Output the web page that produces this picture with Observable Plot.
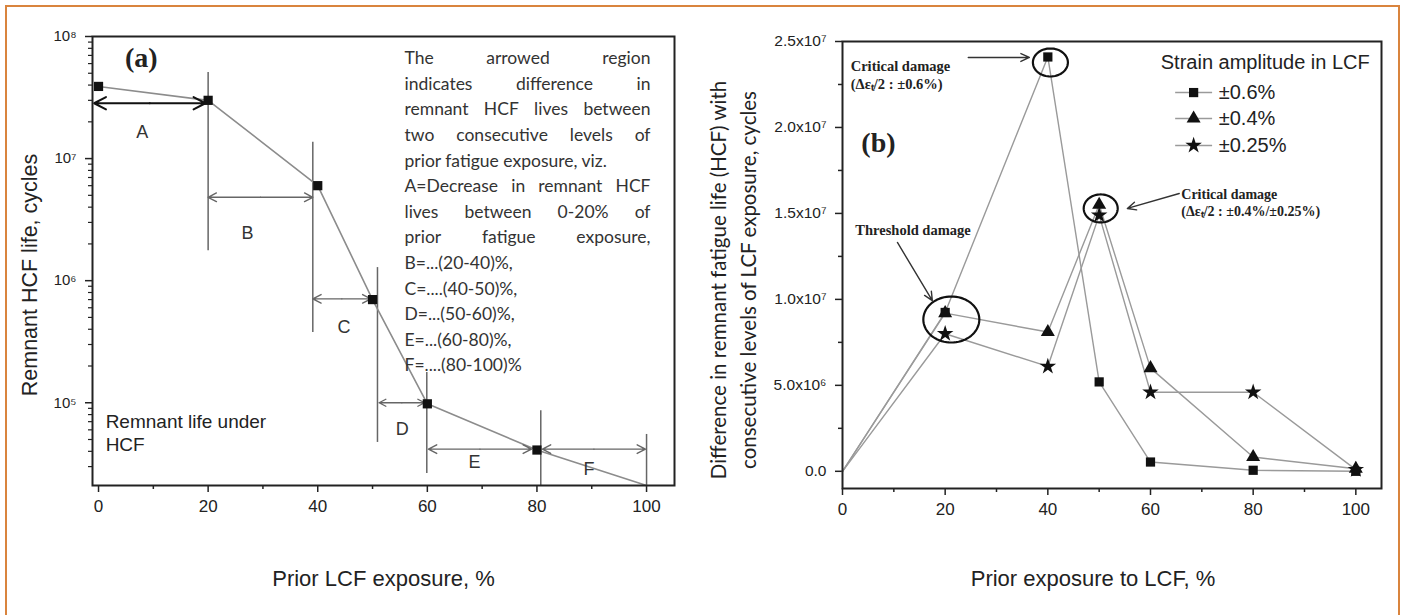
<!DOCTYPE html>
<html>
<head>
<meta charset="utf-8">
<script src="https://cdn.jsdelivr.net/npm/d3@7"></script>
<script src="https://cdn.jsdelivr.net/npm/@observablehq/plot@0.6"></script>
<style>
html,body{margin:0;padding:0;background:#fff;overflow:hidden;}
#wrap{position:relative;width:1407px;height:615px;overflow:hidden;background:#fff;}
#border{position:absolute;left:5px;top:5px;width:1395px;height:700px;border:2px solid #d9843e;box-sizing:border-box;}
#pa{position:absolute;left:0;top:0;}
#pb{position:absolute;left:700px;top:0;}
</style>
</head>
<body>
<div id="wrap"><div id="border"></div><div id="pa"></div><div id="pb"></div></div>
<script>
// ---------------- DATA ----------------
// Panel (a): remnant HCF life vs prior LCF exposure
const exposureA = [0, 20, 40, 50, 60, 80, 100];
const hcfLife = [3.9e7, 3.0e7, 6.0e6, 7.0e5, 9.8e4, 4.1e4, 2.1e4];
const xTicks = [0, 20, 40, 60, 80, 100];
const xMinorTicks = [10, 30, 50, 70, 90];
const yTicksA = [1e5, 1e6, 1e7, 1e8];
const intervalLabels = ["A", "B", "C", "D", "E", "F"];
const noteLines = [
  "The arrowed region",
  "indicates difference in",
  "remnant HCF lives between",
  "two consecutive levels of",
  "prior fatigue exposure, viz.",
  "A=Decrease in remnant HCF",
  "lives between 0-20% of",
  "prior fatigue exposure,",
  "B=...(20-40)%,",
  "C=....(40-50)%,",
  "D=...(50-60)%,",
  "E=...(60-80)%,",
  "F=....(80-100)%"
];
const justifiedLines = [0, 1, 2, 3, 5, 6, 7];

// Panel (b): difference in remnant HCF life between consecutive levels
const exposureB = [0, 20, 40, 50, 60, 80, 100];
const seriesNames = ["±0.6%", "±0.4%", "±0.25%"];
const diff06 = [0, 9.24e6, 2.41e7, 5.2e6, 0.54e6, 0.06e6, 0];
const diff04 = [0, 9.2e6, 8.1e6, 1.55e7, 6.0e6, 0.83e6, 0.15e6];
const diff025 = [0, 8.0e6, 6.1e6, 1.49e7, 4.6e6, 4.6e6, 0.1e6];
const yTicksB = [0, 5e6, 1e7, 1.5e7, 2e7, 2.5e7];
const yMinorTicksB = [2.5e6, 7.5e6, 1.25e7, 1.75e7, 2.25e7];

// ---------------- helpers ----------------
const supMap = {"0":"⁰","1":"¹","2":"²","3":"³","4":"⁴","5":"⁵","6":"⁶","7":"⁷","8":"⁸","9":"⁹","-":"⁻"};
const toSup = n => String(n).split("").map(c => supMap[c]).join("");
const SANS = "Liberation Sans, Arial, sans-serif";
const SERIF = "Liberation Serif, Times New Roman, serif";
const H = 615;

// ================= PANEL (a) =================
const WA = 700;
const mA = {left: 92, right: 26, top: 36, bottom: 130};
const xDomA = [-1.1, 105.1];
const yDomA = [2.1e4, 1e8];
const kxA = (WA - mA.left - mA.right) / (xDomA[1] - xDomA[0]);

const ptsA = exposureA.map((x, i) => ({x, y: hcfLife[i]}));
const minorYA = [];
for (let e = 4; e < 8; e++) for (let k = 2; k <= 9; k++) {
  const v = k * 10 ** e;
  if (v >= yDomA[0] && v <= yDomA[1]) minorYA.push(v);
}

// arrow spans (annotation geometry)
const spansA = [
  {x1: -0.8, x2: 19.5, y: 2.84e7},
  {x1: 20.0, x2: 39.1, y: 4.82e6},
  {x1: 39.1, x2: 49.7, y: 7.1e5},
  {x1: 51.2, x2: 59.5, y: 1.0e5},
  {x1: 60.2, x2: 79.0, y: 4.17e4},
  {x1: 81.0, x2: 99.8, y: 4.17e4}
];
const halves = spansA.flatMap((s, i) => {
  const m = (s.x1 + s.x2) / 2;
  return [{i, x1: m, x2: s.x1, y: s.y}, {i, x1: m, x2: s.x2, y: s.y}];
});
const labelPosA = [
  {x: 8.0, y: 1.63e7}, {x: 27.2, y: 2.43e6}, {x: 44.8, y: 4.14e5},
  {x: 55.4, y: 6.08e4}, {x: 68.6, y: 3.24e4}, {x: 89.5, y: 2.86e4}
].map((p, i) => ({...p, t: intervalLabels[i]}));
const rulesA = [
  {x: 20, y1: 5.07e7, y2: 1.76e6},
  {x: 39.1, y1: 1.36e7, y2: 3.77e5},
  {x: 50.9, y1: 1.28e6, y2: 4.73e4},
  {x: 59.9, y1: 1.77e5, y2: 2.63e4},
  {x: 80.7, y1: 8.6e4, y2: 2.1e4},
  {x: 100, y1: 5.5e4, y2: 2.1e4}
];

// justified note block
const NOTE_FONT = 17.5;
const noteLeftPx = 404, noteWidthPx = 246, noteTopPx = 58, noteStep = 25.6;
const ctx = document.createElement("canvas").getContext("2d");
ctx.font = `${NOTE_FONT}px Lato`;
const noteMarks = noteLines.map((line, li) => {
  let words;
  if (justifiedLines.includes(li)) {
    const ws = line.split(" ");
    const widths = ws.map(w => ctx.measureText(w).width);
    const gap = (noteWidthPx - d3.sum(widths)) / (ws.length - 1);
    let cur = 0;
    words = ws.map((w, j) => { const o = {t: w, px: cur}; cur += widths[j] + gap; return o; });
  } else {
    words = [{t: line, px: 0}];
  }
  words.forEach(w => w.x = xDomA[0] + (noteLeftPx + w.px - mA.left) / kxA);
  return Plot.text(words, {
    x: "x", text: "t", frameAnchor: "top", dy: noteTopPx + li * noteStep - mA.top,
    textAnchor: "start", lineAnchor: "middle", fontFamily: "Lato", fontSize: NOTE_FONT, fill: "#333"
  });
});

const plotA = Plot.plot({
  width: WA, height: H,
  marginLeft: mA.left, marginRight: mA.right, marginTop: mA.top, marginBottom: mA.bottom,
  x: {domain: xDomA},
  y: {type: "log", domain: yDomA},
  style: {fontFamily: SANS, fontSize: "17px", color: "#222", background: "transparent", overflow: "visible"},
  marks: [
    Plot.axisX({ticks: xTicks, tickSize: 7, tickPadding: 7, fontSize: 17, label: null, strokeWidth: 1.5}),
    Plot.axisX({ticks: xMinorTicks, tickSize: 4, tickFormat: () => "", label: null, strokeWidth: 1.5}),
    Plot.axisY({ticks: yTicksA, tickSize: 7, tickPadding: 9, fontSize: 15, label: null, strokeWidth: 1.5,
      tickFormat: d => "10" + toSup(Math.round(Math.log10(d)))}),
    Plot.axisY({ticks: minorYA, tickSize: 4, tickFormat: () => "", label: null, strokeWidth: 1.2}),
    Plot.ruleX(rulesA, {x: "x", y1: "y1", y2: "y2", stroke: "#666", strokeWidth: 1.5}),
    Plot.line(ptsA, {x: "x", y: "y", stroke: "#8c8c8c", strokeWidth: 1.6}),
    Plot.arrow(halves.filter(d => d.i === 0), {x1: "x1", x2: "x2", y1: "y", y2: "y", stroke: "#111", strokeWidth: 2, headLength: 10, headAngle: 55}),
    Plot.arrow(halves.filter(d => d.i > 0), {x1: "x1", x2: "x2", y1: "y", y2: "y", stroke: "#666", strokeWidth: 1.4, headLength: 10, headAngle: 55}),
    Plot.dot(ptsA.filter(d => d.x < 100), {x: "x", y: "y", symbol: "square", r: 5.2, fill: "#111"}),
    Plot.text(labelPosA, {x: "x", y: "y", text: "t", fontSize: 18, fontFamily: SANS, fill: "#333"}),
    Plot.text(["(a)"], {x: 7.8, y: 6.6e7, text: d => d, fontFamily: SERIF, fontWeight: "bold", fontSize: 28, fill: "#222"}),
    Plot.text(["Remnant life under\nHCF"], {x: 1.3, y: 5.7e4, text: d => d, textAnchor: "start", lineAnchor: "middle", lineHeight: 1.2, fontSize: 19, fontFamily: SANS, fill: "#222"}),
    ...noteMarks,
    Plot.text(["Prior LCF exposure, %"], {frameAnchor: "bottom", dy: 93, text: d => d, textAnchor: "middle", lineAnchor: "middle", fontSize: 22, fontFamily: SANS, fill: "#222"}),
    Plot.text(["Remnant HCF life, cycles"], {frameAnchor: "left", dx: -62, dy: 14, rotate: -90, text: d => d, textAnchor: "middle", lineAnchor: "middle", fontSize: 21.5, fontFamily: SANS, fill: "#222"}),
    Plot.frame({stroke: "#222", strokeWidth: 2})
  ]
});
document.getElementById("pa").append(plotA);

// ================= PANEL (b) =================
const WB = 707;
const mB = {left: 142, right: 26, top: 41, bottom: 127};
const xDomB = [0, 105];
const yDomB = [-1e6, 2.5e7];
const kxB = (WB - mB.left - mB.right) / (xDomB[1] - xDomB[0]);
const kyB = (H - mB.top - mB.bottom) / (yDomB[1] - yDomB[0]);

const seriesVals = [diff06, diff04, diff025];
const ptsB = seriesNames.flatMap((s, si) => exposureB.map((x, i) => ({s, x, y: seriesVals[si][i]})));

function ellipsePts(id, cx, cy, rxPx, ryPx) {
  return d3.range(0, 73).map(i => {
    const t = i / 72 * 2 * Math.PI;
    return {id, x: cx + rxPx * Math.cos(t) / kxB, y: cy + ryPx * Math.sin(t) / kyB};
  });
}
const ellipses = [
  ...ellipsePts("c40", 40.5, 2.378e7, 17.5, 14),
  ...ellipsePts("c50", 50.3, 1.529e7, 17, 14),
  ...ellipsePts("thr", 21.2, 8.83e6, 28, 23)
];
const arrowsB = [
  {x1: 24.5, y1: 2.407e7, x2: 36.4, y2: 2.407e7},
  {x1: 65.6, y1: 1.616e7, x2: 55.5, y2: 1.529e7},
  {x1: 10.7, y1: 1.331e7, x2: 17.5, y2: 9.93e6}
];
const legY = [2.203e7, 2.052e7, 1.895e7];
const legendRows = seriesNames.map((s, i) => ({s, y: legY[i]}));
const fmtB = d => {
  if (d === 0) return "0.0";
  const e = Math.floor(Math.log10(d));
  return (d / 10 ** e).toFixed(1) + "x10" + toSup(e);
};

const plotB = Plot.plot({
  width: WB, height: H,
  marginLeft: mB.left, marginRight: mB.right, marginTop: mB.top, marginBottom: mB.bottom,
  x: {domain: xDomB},
  y: {domain: yDomB},
  symbol: {domain: seriesNames, range: ["square", "triangle", "star"]},
  style: {fontFamily: SANS, fontSize: "17px", color: "#222", background: "transparent", overflow: "visible"},
  marks: [
    Plot.axisX({ticks: xTicks, tickSize: 7, tickPadding: 7, fontSize: 17, label: null, strokeWidth: 1.5}),
    Plot.axisX({ticks: xMinorTicks, tickSize: 4, tickFormat: () => "", label: null, strokeWidth: 1.5}),
    Plot.axisY({ticks: yTicksB, tickSize: 7, tickPadding: 9, fontSize: 15.5, label: null, strokeWidth: 1.5, tickFormat: fmtB}),
    Plot.axisY({ticks: yMinorTicksB, tickSize: 4, tickFormat: () => "", label: null, strokeWidth: 1.5}),
    Plot.line(ptsB, {x: "x", y: "y", z: "s", stroke: "#9a9a9a", strokeWidth: 1.4}),
    Plot.dot(ptsB.filter(d => d.x > 0), {x: "x", y: "y", symbol: "s", r: 5.2, fill: "#111"}),
    Plot.line(ellipses, {x: "x", y: "y", z: "id", stroke: "#111", strokeWidth: 2.2, curve: "linear"}),
    Plot.arrow(arrowsB, {x1: "x1", y1: "y1", x2: "x2", y2: "y2", stroke: "#333", strokeWidth: 1.4, headLength: 10, headAngle: 50}),
    Plot.text(["Critical damage\n(Δεₜ/2 : ±0.6%)"], {x: 1.6, y: 2.31e7, text: d => d, textAnchor: "start", lineAnchor: "middle", lineHeight: 1.25, fontFamily: SERIF, fontWeight: "bold", fontSize: 14.5, fill: "#222"}),
    Plot.text(["Critical damage\n(Δεₜ/2 : ±0.4%/±0.25%)"], {x: 66.0, y: 1.566e7, text: d => d, textAnchor: "start", lineAnchor: "middle", lineHeight: 1.2, fontFamily: SERIF, fontWeight: "bold", fontSize: 14, fill: "#222"}),
    Plot.text(["Threshold damage"], {x: 2.5, y: 1.40e7, text: d => d, textAnchor: "start", lineAnchor: "middle", fontFamily: SERIF, fontWeight: "bold", fontSize: 14.5, fill: "#222"}),
    Plot.text(["(b)"], {x: 7.0, y: 1.907e7, text: d => d, fontFamily: SERIF, fontWeight: "bold", fontSize: 28, fill: "#222"}),
    Plot.text(["Strain amplitude in LCF"], {x: 62, y: 2.378e7, text: d => d, textAnchor: "start", lineAnchor: "middle", fontSize: 20, fontFamily: SANS, fill: "#222"}),
    Plot.ruleY(legendRows, {y: "y", x1: 64.9, x2: 72.1, stroke: "#9a9a9a", strokeWidth: 1.4}),
    Plot.dot(legendRows, {x: 68.4, y: "y", symbol: "s", r: 5.2, fill: "#111"}),
    Plot.text(legendRows, {x: 73.3, y: "y", text: "s", textAnchor: "start", lineAnchor: "middle", fontSize: 20, fontFamily: SANS, fill: "#222"}),
    Plot.text(["Prior exposure to LCF, %"], {frameAnchor: "bottom", dx: -19, dy: 90, text: d => d, textAnchor: "middle", lineAnchor: "middle", fontSize: 22, fontFamily: SANS, fill: "#222"}),
    Plot.text(["Difference in remnant fatigue life (HCF) with\nconsecutive levels of LCF exposure, cycles"], {frameAnchor: "left", dx: -111, dy: 15, rotate: -90, text: d => d, textAnchor: "middle", lineAnchor: "middle", lineHeight: 1.45, fontSize: 20.5, fontFamily: "Lato", fill: "#222"}),
    Plot.frame({stroke: "#222", strokeWidth: 2})
  ]
});
document.getElementById("pb").append(plotB);
</script>
</body>
</html>
